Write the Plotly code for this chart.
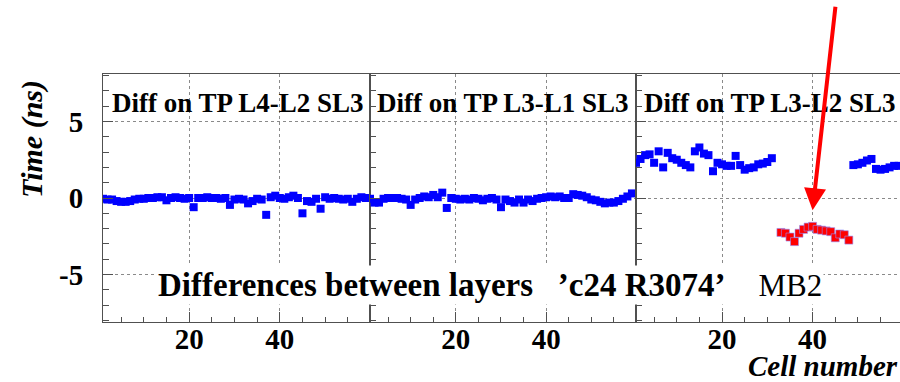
import plotly.graph_objects as go

# Cell numbers and time differences (ns) per layer pair
cells = list(range(1, 60))

diff_l4_l2 = [-0.05, -0.1, -0.1, -0.2, -0.25, -0.25, -0.2, -0.1, -0.05, -0.05,
              0.0, 0.0, 0.05, 0.05, -0.15, 0.0, 0.05, 0.0, -0.05, 0.0,
              -0.6, 0.0, 0.0, 0.05, 0.0, 0.0, -0.05, 0.0, -0.45, -0.1,
              -0.05, -0.1, -0.35, -0.2, -0.05, -0.1, -1.1, 0.05, 0.15, 0.0,
              -0.05, 0.05, 0.15, 0.0, -1.0, -0.2, -0.25, -0.05, -0.7, 0.05,
              -0.05, 0.0, -0.05, -0.1, -0.05, -0.25, -0.05, 0.05, 0.0]

diff_l3_l1 = [-0.05, -0.3, -0.3, -0.05, 0.0, 0.0, 0.0, -0.05, -0.1, -0.45,
              -0.1, 0.0, 0.1, 0.05, 0.2, 0.05, 0.35, -0.65, 0.0, -0.05,
              -0.1, -0.05, -0.1, 0.0, -0.05, -0.15, -0.05, 0.0, -0.1, -0.6,
              -0.1, -0.2, -0.3, -0.1, -0.3, -0.1, -0.2, -0.05, 0.0, 0.05,
              0.1, 0.05, 0.1, 0.0, 0.0, 0.25, 0.2, 0.15, 0.05, -0.1,
              -0.15, -0.25, -0.35, -0.3, -0.3, -0.2, -0.05, 0.1, 0.3]

# L3-L2: normal cells (blue) and the shifted group (red)
l3_l2_cells_a = list(range(1, 32))
l3_l2_vals_a = [2.3, 2.55, 2.8, 2.85, 2.3, 3.05, 2.0, 2.95, 2.6, 2.5,
                2.3, 2.15, 2.0, 3.05, 3.3, 2.9, 2.8, 1.75, 2.3, 2.2,
                2.1, 2.1, 2.75, 2.15, 1.85, 1.95, 2.0, 2.2, 2.25, 2.35, 2.6]
l3_l2_cells_b = list(range(49, 60))
l3_l2_vals_b = [2.15, 2.2, 2.3, 2.45, 2.55, 1.9, 1.85, 1.9, 2.0, 2.1, 2.1]
l3_l2_cells_bad = list(range(33, 49))
l3_l2_vals_bad = [-2.25, -2.3, -2.55, -2.85, -2.3, -2.05, -1.9, -1.85,
                  -2.05, -2.1, -2.15, -2.2, -2.6, -2.35, -2.4, -2.75]

panel_titles = ["Diff on TP L4-L2 SL3", "Diff on TP L3-L1 SL3", "Diff on TP L3-L2 SL3"]
y_tick_vals = [-5, 0, 5]
y_tick_text = ["-5", "0", "5"]
x_tick_vals = [20, 40]
x_tick_text = ["20", "40"]

SERIF = "Liberation Serif, Times New Roman, serif"
BLUE = "#0000ff"
RED = "#ff0000"
FRAME = "#505050"
GRID = "#8a8a8a"

fig = go.Figure()

def blue_points(xs, ys, ax):
    return go.Scatter(x=xs, y=ys, mode="markers", xaxis="x" + ax, yaxis="y" + ax,
                      marker=dict(symbol="square", size=8, color=BLUE,
                                  line=dict(width=0)),
                      showlegend=False, hoverinfo="x+y")

fig.add_trace(blue_points(cells, diff_l4_l2, ""))
fig.add_trace(blue_points(cells, diff_l3_l1, "2"))
fig.add_trace(blue_points(l3_l2_cells_a, l3_l2_vals_a, "3"))
fig.add_trace(blue_points(l3_l2_cells_b, l3_l2_vals_b, "3"))
fig.add_trace(go.Scatter(x=l3_l2_cells_bad, y=l3_l2_vals_bad, mode="markers",
                         xaxis="x3", yaxis="y3",
                         marker=dict(symbol="square", size=8, color=RED,
                                     line=dict(width=0.6, color="#9090ff")),
                         showlegend=False))

# Plot area spans x = 103..900 px, panels of ~267 px
W_PLOT = 797.0
d1 = (0.0, 267 / W_PLOT)
d2 = (267 / W_PLOT, 533 / W_PLOT)
d3 = (533 / W_PLOT, 1.0)

tickfont = dict(family=SERIF, size=29, color="black", weight="bold")

def xaxis(domain, rng, anchor):
    return dict(domain=domain, range=rng, anchor=anchor,
                showline=True, linecolor=FRAME, linewidth=1, mirror=True,
                ticks="inside", ticklen=10, tickwidth=1, tickcolor=FRAME,
                tickmode="array", tickvals=x_tick_vals, ticktext=x_tick_text,
                minor=dict(ticks="inside", dtick=5, tick0=0, ticklen=5,
                           tickcolor=FRAME, showgrid=False),
                showgrid=True, gridcolor=GRID, griddash="dot", gridwidth=1,
                zeroline=False, tickfont=tickfont, ticklabelstandoff=-9)

def yaxis(anchor, labels, mirror):
    return dict(range=[-8.1, 8.1], anchor=anchor, domain=[0, 1],
                showline=True, linecolor=FRAME, linewidth=1, mirror=mirror,
                ticks="inside", ticklen=10, tickwidth=1, tickcolor=FRAME,
                tickmode="array", tickvals=y_tick_vals, ticktext=y_tick_text,
                minor=dict(ticks="inside", dtick=1, tick0=0, ticklen=6,
                           tickcolor=FRAME, showgrid=False),
                showgrid=True, gridcolor=GRID, griddash="dot", gridwidth=1,
                zeroline=False, showticklabels=labels,
                tickfont=tickfont, ticklabelstandoff=13)

fig.update_layout(
    width=900, height=382,
    margin=dict(l=103, r=0, t=74, b=60),
    paper_bgcolor="white", plot_bgcolor="white",
    xaxis=xaxis(d1, [1, 59.9], "y"),
    xaxis2=xaxis(d2, [1, 59.9], "y2"),
    xaxis3=xaxis(d3, [1, 59.3], "y3"),
    yaxis=yaxis("x", True, True),
    yaxis2=yaxis("x2", False, True),
    yaxis3=yaxis("x3", False, False),
)

annotations = []
title_x = [0.026, 0.019, 0.023]
for i, (t, tx) in enumerate(zip(panel_titles, title_x)):
    ref = "x domain" if i == 0 else f"x{i + 1} domain"
    annotations.append(dict(text=t, xref=ref, yref="paper", x=tx, y=0.883,
                            xanchor="left", yanchor="middle", showarrow=False,
                            font=dict(family=SERIF, size=27, color="black",
                                      weight="bold")))

# Axis titles
annotations.append(dict(text="Time (ns)", xref="paper", yref="paper",
                        x=-0.089, y=0.738, textangle=-90,
                        xanchor="center", yanchor="middle", showarrow=False,
                        font=dict(family=SERIF, size=30, color="black",
                                  weight="bold", style="italic")))
annotations.append(dict(text="Cell number", xref="paper", yref="paper",
                        x=1.0, y=-0.176,
                        xanchor="right", yanchor="middle", showarrow=False,
                        font=dict(family=SERIF, size=29, color="black",
                                  weight="bold", style="italic")))

# Run label
annotations.append(dict(
    text="<b>Differences between layers\u00a0\u00a0\u00a0’c24 R3074’</b>"
         "\u00a0\u00a0\u00a0\u00a0<span style=\"font-size:31px\">MB2</span>",
    xref="paper", yref="paper", x=(156 - 103) / W_PLOT, y=0.149,
    xanchor="left", yanchor="middle", showarrow=False,
    bgcolor="white", borderpad=1,
    font=dict(family=SERIF, size=33, color="black")))

# Arrow pointing at the shifted cells
annotations.append(dict(text="", xref="x3", yref="y3", x=40, y=-0.8,
                        ax=23, ay=-205, showarrow=True, arrowcolor=RED,
                        arrowwidth=4, arrowhead=2, arrowsize=1.1, standoff=0))

fig.update_layout(annotations=annotations)

fig.write_html("out.html")
